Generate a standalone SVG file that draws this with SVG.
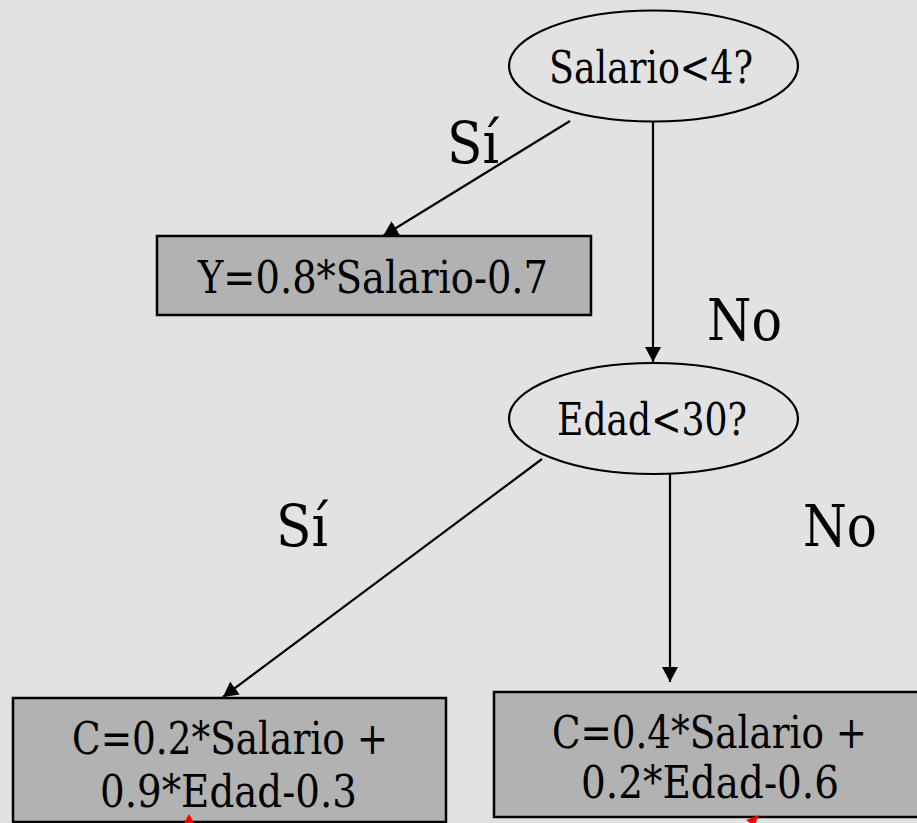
<svg xmlns="http://www.w3.org/2000/svg" width="917" height="823" viewBox="0 0 917 823">
<defs>
<style>
text{font-family:'DejaVu Serif',serif;fill:#000}
.n{font-size:44px}
.l{font-size:57px}
.ell{fill:none;stroke:#000;stroke-width:2.2}
.box{fill:#b2b2b2;stroke:#000;stroke-width:2.5}
.c{stroke:#000;stroke-width:2.2;fill:none}
.r{stroke:#ff0000;stroke-width:2.2;fill:none}
</style>
<marker id="ah" markerUnits="userSpaceOnUse" markerWidth="16" markerHeight="16" refX="15" refY="8" orient="auto" viewBox="0 0 16 16">
<path d="M0,0 L15,8 L0,16 z" fill="#000"/>
</marker>
</defs>
<rect x="0" y="0" width="917" height="823" fill="#e2e2e2"/>
<g id="labels">
<text class="l" x="447" y="163" textLength="52" lengthAdjust="spacingAndGlyphs">Sí</text>
<text class="l" x="707" y="340" textLength="75" lengthAdjust="spacingAndGlyphs">No</text>
<text class="l" x="276" y="546" textLength="52" lengthAdjust="spacingAndGlyphs">Sí</text>
<text class="l" x="803" y="546" textLength="74" lengthAdjust="spacingAndGlyphs">No</text>
</g>
<g id="node-salario">
<ellipse class="ell" cx="653.5" cy="66" rx="144.5" ry="55.5"/>
<text class="n" x="549" y="83" textLength="204" lengthAdjust="spacingAndGlyphs">Salario&lt;4?</text>
</g>
<g id="node-y">
<rect class="box" x="157" y="236" width="434" height="79"/>
<text class="n" x="198" y="293" textLength="350" lengthAdjust="spacingAndGlyphs">Y=0.8*Salario-0.7</text>
</g>
<g id="node-edad">
<ellipse class="ell" cx="653.5" cy="418.5" rx="144.5" ry="55.5"/>
<text class="n" x="557" y="435" textLength="190" lengthAdjust="spacingAndGlyphs">Edad&lt;30?</text>
</g>
<g id="node-c1">
<rect class="box" x="13" y="698" width="433" height="124"/>
<text class="n" x="72" y="754" textLength="316" lengthAdjust="spacingAndGlyphs">C=0.2*Salario +</text>
<text class="n" x="100" y="807" textLength="257" lengthAdjust="spacingAndGlyphs">0.9*Edad-0.3</text>
</g>
<g id="node-c2">
<rect class="box" x="494" y="692" width="432" height="125"/>
<text class="n" x="552" y="748" textLength="315" lengthAdjust="spacingAndGlyphs">C=0.4*Salario +</text>
<text class="n" x="581" y="798" textLength="258" lengthAdjust="spacingAndGlyphs">0.2*Edad-0.6</text>
</g>
<g id="connectors">
<line class="c" x1="570" y1="121" x2="383" y2="236" marker-end="url(#ah)"/>
<line class="c" x1="653" y1="122" x2="653" y2="362" marker-end="url(#ah)"/>
<line class="c" x1="542" y1="459" x2="223" y2="697" marker-end="url(#ah)"/>
<line class="c" x1="670" y1="474" x2="670" y2="682" marker-end="url(#ah)"/>
<line class="r" x1="189" y1="823" x2="189" y2="818"/>
<polygon points="189,814 184,823 194,823" fill="#ff0000"/>
<line class="r" x1="745" y1="837" x2="755" y2="821"/>
<polygon points="759,815 746,820 754,826" fill="#ff0000"/>
</g>
</svg>
